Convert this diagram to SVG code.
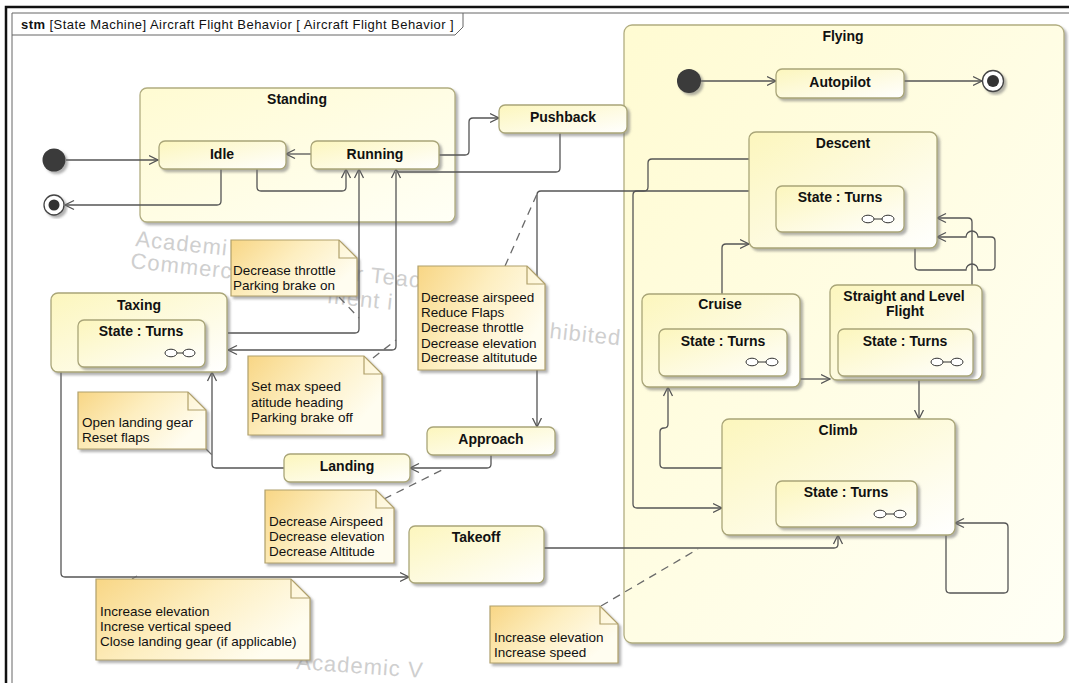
<svg xmlns="http://www.w3.org/2000/svg" width="1069" height="683" viewBox="0 0 1069 683">
<defs>
<linearGradient id="gNode" x1="0" y1="0" x2="1" y2="1">
<stop offset="0" stop-color="#fcf6bd"/><stop offset="1" stop-color="#ffffff"/>
</linearGradient>
<linearGradient id="gBig" x1="0" y1="0" x2="1" y2="1">
<stop offset="0" stop-color="#fffbd2"/><stop offset="1" stop-color="#fffff6"/>
</linearGradient>
<linearGradient id="gNote" x1="0" y1="0" x2="1" y2="0.5">
<stop offset="0" stop-color="#f8d685"/><stop offset="0.5" stop-color="#fdeec0"/><stop offset="1" stop-color="#fffdf0"/>
</linearGradient>
<filter id="sh" x="-10%" y="-10%" width="130%" height="130%">
<feDropShadow dx="2.5" dy="2.5" stdDeviation="1" flood-color="#707070" flood-opacity="0.55"/>
</filter>
<marker id="arr" markerUnits="userSpaceOnUse" markerWidth="10" markerHeight="12" viewBox="0 0 10 12" refX="9.5" refY="6" orient="auto">
<path d="M0.5,1.5 L9.5,6 L0.5,10.5" fill="none" stroke="#555" stroke-width="1.3"/>
</marker>
<style>
.n{fill:url(#gNode);stroke:#a9a578;stroke-width:1.3;filter:url(#sh)}
.big{fill:url(#gBig);stroke:#b1ad80;stroke-width:1.3;filter:url(#sh)}
.note{fill:url(#gNote);stroke:#b0a06a;stroke-width:1.2;filter:url(#sh)}
.fold{fill:none;stroke:#b0a06a;stroke-width:1.2}
.t{font-family:"Liberation Sans",Arial,sans-serif;font-weight:bold;font-size:14px;fill:#111;text-anchor:middle}
.nt{font-family:"Liberation Sans",Arial,sans-serif;font-size:13.5px;fill:#111}
.c path{fill:none;stroke:#555;stroke-width:1.3;marker-end:url(#arr)}
.d path{fill:none;stroke:#6a6a6a;stroke-width:1.3;stroke-dasharray:8,6}
.ic{fill:#fff;stroke:#333;stroke-width:1}
.wm{font-family:"Liberation Sans",Arial,sans-serif;font-size:22px;fill:#cfcfcf;letter-spacing:1px}
.init{fill:#3a3a3a;filter:url(#sh)}
</style>
</defs>
<rect x="0" y="0" width="1069" height="683" fill="#ffffff"/>
<!-- frame -->
<g id="frame">
<path d="M6,683 V7 H1069" fill="none" stroke="#111" stroke-width="2.5"/>
<path d="M12,683 V13 H1069" fill="none" stroke="#666" stroke-width="1"/>
<path d="M12,35 H455 L463,27 V13" fill="none" stroke="#666" stroke-width="1"/>
<text x="21" y="29" style="font-family:'Liberation Sans',Arial,sans-serif;font-size:13px;letter-spacing:0.45px;fill:#111"><tspan font-weight="bold">stm</tspan> [State Machine] Aircraft Flight Behavior [ Aircraft Flight Behavior ]</text>
</g>
<!-- watermark -->
<g id="watermark" class="wm">
<text x="135" y="246" transform="rotate(6 135 246)">Academi</text>
<text x="130" y="268" transform="rotate(6 130 268)">Commerc</text>
<text x="355" y="281" transform="rotate(6 355 281)">r Teac</text>
<text x="327" y="303" transform="rotate(6 327 303)">ment i</text>
<text x="549" y="338" transform="rotate(6 549 338)">hibited</text>
<text x="296" y="669" transform="rotate(4 296 669)">Academic V</text>
</g>
<!-- composite containers -->
<g id="standing">
<rect class="big" x="140" y="88" width="315" height="134" rx="7"/>
<text class="t" x="297" y="104">Standing</text>
</g>
<g id="flying">
<rect class="big" x="624" y="25" width="440" height="618" rx="8"/>
<text class="t" x="843" y="41">Flying</text>
</g>
<!-- connectors -->
<g id="connectors">
<g class="c">
<path d="M66,160 H158"/>
<path d="M311,154 H286"/>
<path d="M257,169 V187 Q257,191 261,191 H342 Q346,191 346,187 V169"/>
<path d="M221,169 V201 Q221,205 217,205 H65"/>
<path d="M439,155 H465 Q469,155 469,151 V122 Q469,118 473,118 H499"/>
<path d="M560,133 V168 Q560,172 556,172 H400 Q396,172 396,169"/>
<path d="M396,172 V346 Q396,350 392,350 H228"/>
<path d="M228,333 H355 Q359,333 359,329 V169"/>
<path d="M749,159 H652 Q648,159 648,163 V187 Q648,191 644,191 H541 Q537,191 537,195 V427"/>
<path d="M749,191 H637 Q633,191 633,195 V504 Q633,508 637,508 H722"/>
<path d="M722,294 V248 Q722,244 726,244 H749"/>
<path d="M972,285 V222 Q972,218 968,218 H937"/>
<path d="M915,248 V266 Q915,270 919,270 H966 A6,6 0 0 1 978,270 H991 Q995,270 995,266 V241 Q995,237 991,237 H978 A6,6 0 0 0 966,237 H937"/>
<path d="M946,535 V589 Q946,593 950,593 H1004 Q1008,593 1008,589 V527 Q1008,523 1004,523 H955"/>
<path d="M919,380 V419"/>
<path d="M800,379 H830"/>
<path d="M722,468 H664 Q660,468 660,464 V432 Q660,428 664,428 Q668,428 668,424 V387"/>
<path d="M544,548 H834 Q838,548 838,544 V535"/>
<path d="M61,372 V573 Q61,577 65,577 H409"/>
<path d="M491,455 V464 Q491,468 487,468 H410"/>
<path d="M284,468 H216 Q212,468 212,464 V372"/>
<path d="M701,81 H776"/>
<path d="M904,81 H982"/>
</g>
<g class="d">
<path d="M339,297 L359,318"/>
<path d="M373,358 L396,340"/>
<path d="M505,266 L537,194"/>
<path d="M206,449 L212,455"/>
<path d="M384,499 L446,468"/>
<path d="M132,579 L137,576"/>
<path d="M601,606 L698,549"/>
</g>
</g>
<!-- pseudo states -->
<g id="initial1"><circle class="init" cx="54" cy="160" r="11.5"/></g>
<g id="final1"><circle cx="54" cy="205" r="10" fill="#fff" stroke="#444" stroke-width="1.3" filter="url(#sh)"/><circle cx="54" cy="205" r="5.5" fill="#333"/></g>
<g id="initial2"><circle class="init" cx="689" cy="81" r="12"/></g>
<g id="final2"><circle cx="993" cy="81" r="10.5" fill="#fff" stroke="#444" stroke-width="1.3" filter="url(#sh)"/><circle cx="993" cy="81" r="6" fill="#333"/></g>
<!-- states -->
<g id="idle"><rect class="n" x="159" y="141" width="127" height="28" rx="6"/><text class="t" x="222" y="159">Idle</text></g>
<g id="running"><rect class="n" x="311" y="141" width="128" height="28" rx="6"/><text class="t" x="375" y="159">Running</text></g>
<g id="pushback"><rect class="n" x="499" y="105" width="128" height="28" rx="6"/><text class="t" x="563" y="122">Pushback</text></g>
<g id="taxing"><rect class="n" x="51" y="293" width="176" height="79" rx="7"/><text class="t" x="139" y="310">Taxing</text>
<rect class="n" x="78" y="320" width="127" height="47" rx="6"/><text class="t" x="141" y="336">State : Turns</text>
<g class="ic"><ellipse cx="171" cy="353" rx="6" ry="3.8"/><line x1="177" y1="353" x2="183" y2="353"/><ellipse cx="189" cy="353" rx="6" ry="3.8"/></g></g>
<g id="approach"><rect class="n" x="427" y="427" width="128" height="28" rx="6"/><text class="t" x="491" y="444">Approach</text></g>
<g id="landing"><rect class="n" x="284" y="454" width="126" height="28" rx="6"/><text class="t" x="347" y="471">Landing</text></g>
<g id="takeoff"><rect class="n" x="409" y="526" width="135" height="57" rx="6"/><text class="t" x="476" y="542">Takeoff</text></g>
<g id="autopilot"><rect class="n" x="776" y="69" width="128" height="29" rx="6"/><text class="t" x="840" y="87">Autopilot</text></g>
<g id="descent"><rect class="n" x="749" y="132" width="188" height="116" rx="7"/><text class="t" x="843" y="148">Descent</text>
<rect class="n" x="776" y="186" width="128" height="46" rx="6"/><text class="t" x="840" y="202">State : Turns</text>
<g class="ic"><ellipse cx="868" cy="219" rx="6" ry="3.8"/><line x1="874" y1="219" x2="882" y2="219"/><ellipse cx="888" cy="219" rx="6" ry="3.8"/></g></g>
<g id="cruise"><rect class="n" x="642" y="294" width="158" height="93" rx="7"/><text class="t" x="720" y="309">Cruise</text>
<rect class="n" x="659" y="329" width="128" height="47" rx="6"/><text class="t" x="723" y="346">State : Turns</text>
<g class="ic"><ellipse cx="752" cy="362" rx="6" ry="3.8"/><line x1="758" y1="362" x2="766" y2="362"/><ellipse cx="772" cy="362" rx="6" ry="3.8"/></g></g>
<g id="straight-level"><rect class="n" x="830" y="285" width="152" height="95" rx="7"/><text class="t" x="904" y="301">Straight and Level</text><text class="t" x="905" y="316">Flight</text>
<rect class="n" x="838" y="329" width="135" height="47" rx="6"/><text class="t" x="905" y="346">State : Turns</text>
<g class="ic"><ellipse cx="937" cy="362" rx="6" ry="3.8"/><line x1="943" y1="362" x2="951" y2="362"/><ellipse cx="957" cy="362" rx="6" ry="3.8"/></g></g>
<g id="climb"><rect class="n" x="722" y="419" width="233" height="116" rx="7"/><text class="t" x="838" y="435">Climb</text>
<rect class="n" x="776" y="481" width="141" height="46" rx="6"/><text class="t" x="846" y="497">State : Turns</text>
<g class="ic"><ellipse cx="880" cy="514" rx="6" ry="3.8"/><line x1="886" y1="514" x2="894" y2="514"/><ellipse cx="900" cy="514" rx="6" ry="3.8"/></g></g>
<!-- notes -->
<g id="note1"><path class="note" d="M231,240 H339 L357,258 V296 H231 Z"/><path class="fold" d="M339,240 V258 H357"/>
<text class="nt" x="233" y="275">Decrease throttle</text><text class="nt" x="233" y="290">Parking brake on</text></g>
<g id="note2"><path class="note" d="M248,356 H364 L382,374 V435 H248 Z"/><path class="fold" d="M364,356 V374 H382"/>
<text class="nt" x="251" y="391">Set max speed</text><text class="nt" x="251" y="407">atitude heading</text><text class="nt" x="251" y="422">Parking brake off</text></g>
<g id="note3"><path class="note" d="M418,266 H527 L545,284 V370 H418 Z"/><path class="fold" d="M527,266 V284 H545"/>
<text class="nt" x="421" y="302">Decrease airspeed</text><text class="nt" x="421" y="317">Reduce Flaps</text><text class="nt" x="421" y="332">Decrease throttle</text><text class="nt" x="421" y="348">Decrease elevation</text><text class="nt" x="421" y="362">Decrease altitutude</text></g>
<g id="note4"><path class="note" d="M78,392 H188 L206,410 V449 H78 Z"/><path class="fold" d="M188,392 V410 H206"/>
<text class="nt" x="82" y="427">Open landing gear</text><text class="nt" x="82" y="442">Reset flaps</text></g>
<g id="note5"><path class="note" d="M265,490 H376 L394,508 V563 H265 Z"/><path class="fold" d="M376,490 V508 H394"/>
<text class="nt" x="269" y="526">Decrease Airspeed</text><text class="nt" x="269" y="541">Decrease elevation</text><text class="nt" x="269" y="556">Decrease Altitude</text></g>
<g id="note6"><path class="note" d="M96,579 H291 L310,598 V660 H96 Z"/><path class="fold" d="M291,579 V598 H310"/>
<text class="nt" x="100" y="616">Increase elevation</text><text class="nt" x="100" y="631">Increse vertical speed</text><text class="nt" x="100" y="646">Close landing gear (if applicable)</text></g>
<g id="note7"><path class="note" d="M490,606 H600 L618,624 V663 H490 Z"/><path class="fold" d="M600,606 V624 H618"/>
<text class="nt" x="494" y="642">Increase elevation</text><text class="nt" x="494" y="657">Increase speed</text></g>
</svg>
